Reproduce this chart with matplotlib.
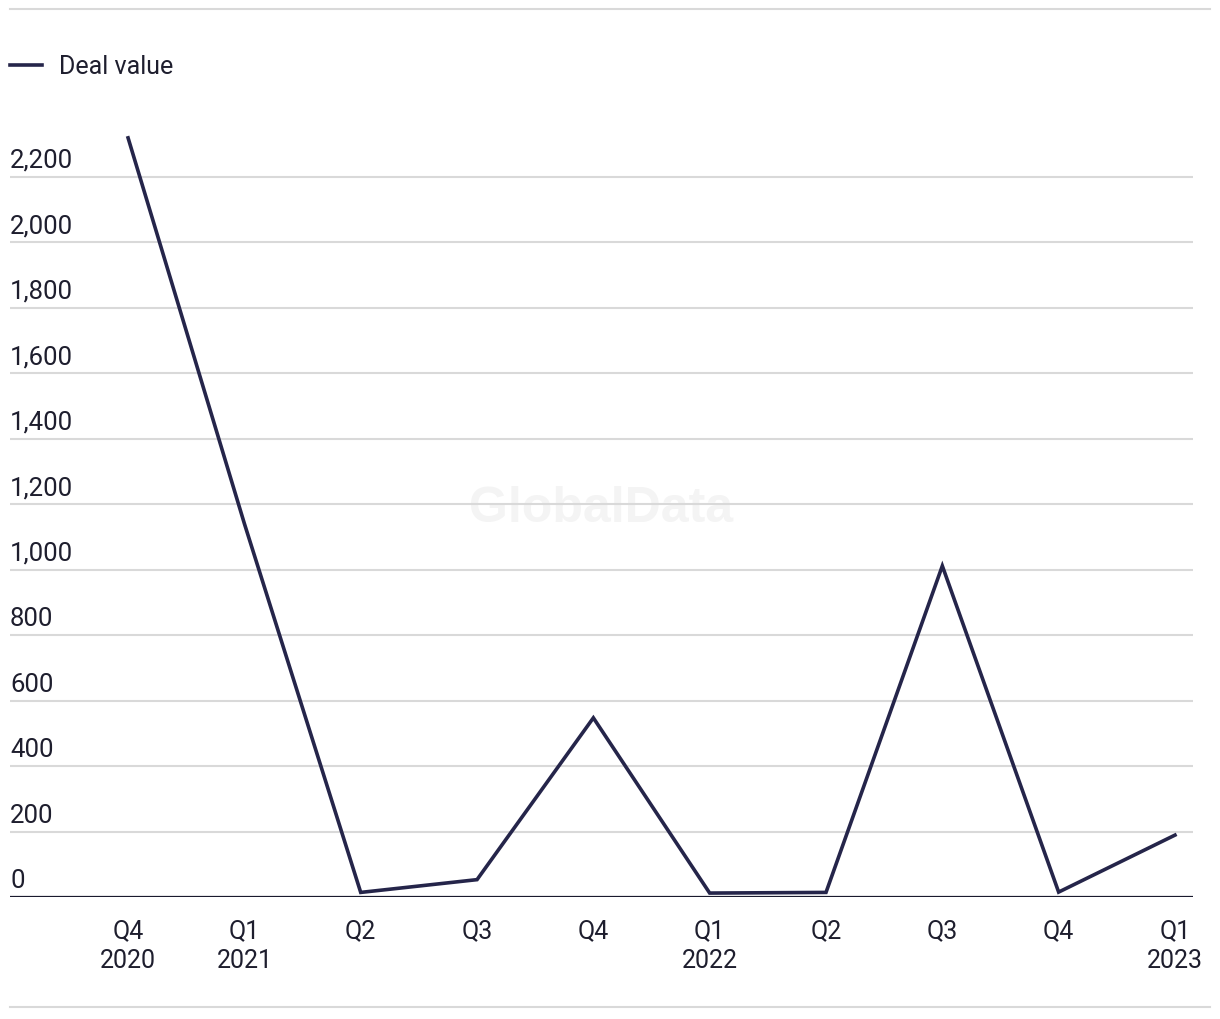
import matplotlib as mpl
mpl.use('Agg')
import matplotlib.pyplot as plt
from matplotlib.lines import Line2D

quarters = ['Q4\n2020', 'Q1\n2021', 'Q2', 'Q3', 'Q4', 'Q1\n2022', 'Q2', 'Q3', 'Q4', 'Q1\n2023']
deal_value = [2318, 1140, 14, 53, 547, 12, 14, 1011, 15, 189]
y_ticks = list(range(0, 2201, 200))

line_color = '#25254a'
grid_color = '#d9d9d9'
text_color = '#1e1e2e'
fs = 18

plt.rcParams['font.family'] = ['Roboto', 'DejaVu Sans']

W, H = 1220, 1020
fig = plt.figure(figsize=(W / 100, H / 100), dpi=100)
ax = fig.add_axes([10 / W, (H - 898) / H, (1193 - 10) / W, (898 - 112) / H])

x = list(range(len(deal_value)))
ax.plot(x, deal_value, color=line_color, lw=2.6, zorder=3, solid_joinstyle='miter')

ax.set_xlim(-1.015, 9.155)
ax.set_ylim(0, 2400)

for s in ax.spines.values():
    s.set_visible(False)
ax.axhline(0, color='#1a1a2e', lw=1.6, zorder=4)

ax.set_yticks(y_ticks)
ax.set_yticklabels([])
ax.tick_params(axis='y', length=0)
ax.grid(axis='y', color=grid_color, lw=1.5, zorder=0)
ax.set_axisbelow(True)
for v in y_ticks:
    ax.text(0, v + 15, f'{v:,}', transform=ax.get_yaxis_transform(),
            ha='left', va='bottom', fontsize=18.5, color=text_color)

ax.set_xticks(x)
ax.set_xticklabels(quarters, fontsize=fs, color=text_color, linespacing=1.35)
ax.tick_params(axis='x', length=0, pad=15)

# watermark
ax.text(0.5, 0.495, 'GlobalData', transform=ax.transAxes, ha='center', va='center',
        fontsize=36, fontweight='bold', color='#f4f4f4', zorder=0,
        family=['Liberation Sans', 'DejaVu Sans'])

# legend
fig.add_artist(Line2D([10 / W, 42 / W], [(H - 66) / H] * 2, color=line_color, lw=2.6))
fig.text(59 / W, (H - 67) / H, 'Deal value', ha='left', va='center',
         fontsize=fs, color=text_color)

# frame lines
fig.add_artist(Line2D([10 / W, 1210 / W], [(H - 10) / H] * 2, color=grid_color, lw=1.5))
fig.add_artist(Line2D([10 / W, 1210 / W], [(H - 1008) / H] * 2, color=grid_color, lw=1.5))

fig.savefig('out.png', dpi=100)
